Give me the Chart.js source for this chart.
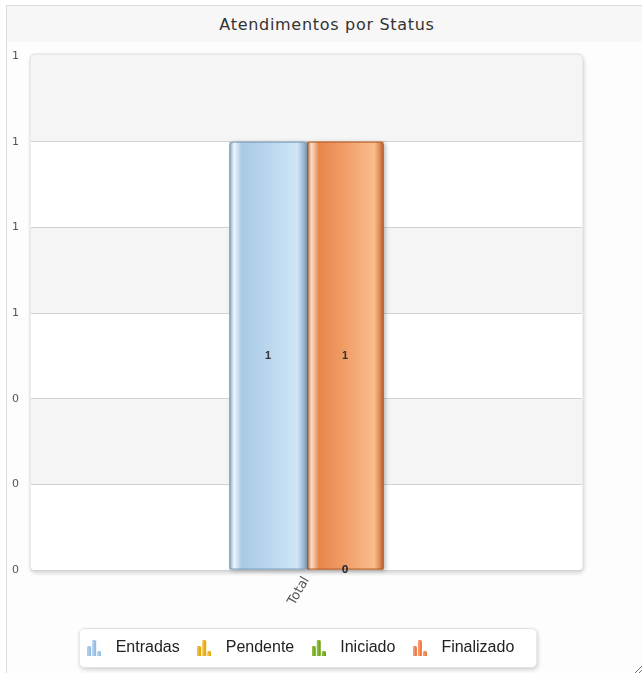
<!DOCTYPE html>
<html>
<head>
<meta charset="utf-8">
<script src="https://cdn.jsdelivr.net/npm/chart.js@4/dist/chart.umd.min.js"></script>
<style>
  html, body { margin: 0; padding: 0; background: #fff; width: 642px; height: 673px; overflow: hidden; }
  #wrap { position: absolute; left: 6px; top: 5px; width: 640px; height: 672px; border: 1px solid #dcdcdc; background: #fdfdfd; }
  #title { height: 36px; background: #f7f7f7; text-align: center; font: 16px 'DejaVu Sans', sans-serif; letter-spacing: 0.7px; line-height: 38px; color: #333; }
  #box { position: absolute; left: 0; top: 36px; width: 635px; height: 631px; }
  #grip { position: absolute; left: 628px; top: 660px; width: 7px; height: 7px;
    background: linear-gradient(135deg, transparent 45%, #777 45%, #777 55%, transparent 55%, transparent 75%, #777 75%, #777 85%, transparent 85%); }
</style>
</head>
<body>
<div id="wrap">
  <div id="title">Atendimentos por Status</div>
  <div id="box"><canvas id="cv"></canvas></div>
  <div id="grip"></div>
</div>
<script>
'use strict';

/* ---- dados ---- */
const categories = ['Total'];
const seriesNames = ['Entradas', 'Pendente', 'Iniciado', 'Finalizado'];
const entradas = [1];
const pendente = [0];
const iniciado = [0];
const finalizado = [1];
const yMin = 0, yMax = 1.2, yStep = 0.2;

/* ---- estilos ---- */
const baseColors = ['#b3d2ec', '#e9b41e', '#7db022', '#ec8a4c'];
const iconColors = ['#94bfe4', '#e6aa0c', '#6ea814', '#f07c44'];
const glass = [
    ['#86a7c4', '#eef6fc', '#a9c9e4', '#b9d6ee', '#cfe5f7', '#a3c0d9', '#7f9fba'],
    ['#b8870c', '#fff0c0', '#e4ab16', '#eec040', '#f6d46a', '#d09c18', '#a67a08'],
    ['#5d8d12', '#e6f5c8', '#78ad1e', '#8cc030', '#a6d24e', '#6e9d1a', '#55820e'],
    ['#c0652c', '#fde4d0', '#e7864a', '#f19e68', '#fbbc8e', '#de8a56', '#b5622e']
];
const glassStops = [0, 0.06, 0.16, 0.5, 0.88, 0.95, 1];

function makeIcon(color) {
    const c = document.createElement('canvas');
    c.width = 14; c.height = 16;
    const x = c.getContext('2d');
    const bars = [[0, 6, 10], [5, 0, 16], [10, 11, 5]];
    x.fillStyle = color;
    bars.forEach(([bx, by, bh]) => {
        x.beginPath();
        x.roundRect(bx, by, 4, bh, [1.5, 1.5, 0, 0]);
        x.fill();
    });
    // brilho
    x.globalAlpha = 0.45;
    x.fillStyle = '#fff';
    bars.forEach(([bx, by, bh]) => x.fillRect(bx + 0.5, by + 1, 1, bh - 1));
    return c;
}
const icons = iconColors.map(makeIcon);

/* fundo do plot: moldura arredondada + faixas alternadas */
const plotBackground = {
    id: 'plotBackground',
    beforeDraw(chart) {
        const { ctx, chartArea: a, scales: { y } } = chart;
        ctx.save();
        // moldura com sombra
        ctx.shadowColor = 'rgba(0,0,0,0.18)';
        ctx.shadowBlur = 4; ctx.shadowOffsetX = 1; ctx.shadowOffsetY = 2;
        ctx.beginPath();
        ctx.roundRect(a.left - 1, a.top - 2, a.right - a.left + 2, a.bottom - a.top + 3, 5);
        ctx.fillStyle = '#fff';
        ctx.fill();
        ctx.shadowColor = 'transparent';
        ctx.clip();
        // faixas
        const ticks = y.ticks.map(t => t.value);
        for (let i = 0; i < ticks.length - 1; i++) {
            const idxFromTop = ticks.length - 2 - i;
            if (idxFromTop % 2 === 0) {
                const y0 = idxFromTop === 0 ? a.top - 3 : y.getPixelForValue(ticks[i + 1]);
                const y1 = y.getPixelForValue(ticks[i]);
                ctx.fillStyle = '#f5f5f5';
                ctx.fillRect(a.left - 2, y0, a.right - a.left + 4, y1 - y0);
            }
        }
        ctx.restore();
        ctx.save();
        ctx.beginPath();
        ctx.roundRect(a.left - 1, a.top - 2, a.right - a.left + 2, a.bottom - a.top + 3, 5);
        ctx.strokeStyle = '#dedede';
        ctx.lineWidth = 1;
        ctx.stroke();
        ctx.restore();

        // caixa da legenda
        const lg = chart.legend;
        if (lg && lg.legendHitBoxes && lg.legendHitBoxes.length) {
            const hb = lg.legendHitBoxes;
            const l = Math.min(...hb.map(h => h.left)) - 2;
            const r = Math.max(...hb.map(h => h.left + h.width)) + 22;
            const t = hb[0].top - 12;
            ctx.save();
            ctx.shadowColor = 'rgba(0,0,0,0.2)';
            ctx.shadowBlur = 4; ctx.shadowOffsetX = 1; ctx.shadowOffsetY = 2;
            ctx.beginPath();
            ctx.roundRect(l + 0.5, t + 0.5, r - l, 39, 5);
            ctx.fillStyle = '#fff';
            ctx.fill();
            ctx.shadowColor = 'transparent';
            ctx.strokeStyle = '#e2e2e2';
            ctx.stroke();
            ctx.restore();
        }
    }
};

/* legenda centrada na área do gráfico (um pouco à esquerda, como no original) */
const centerLegend = {
    id: 'centerLegend',
    afterLayout(chart) {
        const lg = chart.legend, a = chart.chartArea;
        const dx = (a.left + a.right) / 2 - (lg.left + lg.right) / 2 - 9;
        lg.left += dx; lg.right += dx;
    }
};

/* efeito "vidro" nas barras */
const glassBars = {
    id: 'glassBars',
    afterDatasetDraw(chart, args) {
        const ctx = chart.ctx;
        const stops = glass[args.index];
        args.meta.data.forEach(el => {
            const { x, y, base, width } = el.getProps(['x', 'y', 'base', 'width'], true);
            const h = base - y;
            if (Math.abs(h) < 1) return;
            const l = x - width / 2;
            const g = ctx.createLinearGradient(l, 0, l + width, 0);
            stops.forEach((c, i) => g.addColorStop(glassStops[i], c));
            ctx.save();
            ctx.shadowColor = 'rgba(0,0,0,0.28)';
            ctx.shadowBlur = 4; ctx.shadowOffsetX = 2; ctx.shadowOffsetY = 1;
            ctx.beginPath();
            ctx.roundRect(l, y, width, h, [3, 3, 1, 1]);
            ctx.fillStyle = g;
            ctx.fill();
            ctx.shadowColor = 'transparent';
            ctx.strokeStyle = stops[6];
            ctx.lineWidth = 1;
            ctx.beginPath();
            ctx.roundRect(l + 0.5, y + 0.5, width - 1, h - 1, [3, 3, 1, 1]);
            ctx.stroke();
            ctx.restore();
        });
    }
};

/* rótulos de valor */
const valueLabels = {
    id: 'valueLabels',
    afterDatasetsDraw(chart) {
        const ctx = chart.ctx;
        ctx.save();
        ctx.font = 'bold 11px "Liberation Sans", Arial, sans-serif';
        ctx.fillStyle = '#333';
        ctx.textAlign = 'center';
        ctx.textBaseline = 'middle';
        chart.data.datasets.forEach((ds, di) => {
            const meta = chart.getDatasetMeta(di);
            meta.data.forEach((el, i) => {
                const { x, y, base } = el.getProps(['x', 'y', 'base'], true);
                ctx.fillText(String(ds.data[i]), x, (y + base) / 2);
            });
        });
        ctx.restore();
    }
};

const seriesData = [entradas, pendente, iniciado, finalizado];
const stackIds = ['a', 'b', 'b', 'b'];

new Chart(document.getElementById('cv'), {
    type: 'bar',
    data: {
        labels: categories,
        datasets: seriesNames.map((name, i) => ({
            label: name,
            data: seriesData[i],
            stack: stackIds[i],
            backgroundColor: baseColors[i],
            borderWidth: 0,
            categoryPercentage: 0.2795,
            barPercentage: 1
        }))
    },
    options: {
        responsive: true,
        maintainAspectRatio: false,
        animation: false,
        layout: { padding: { left: 5, right: 60, top: 14, bottom: 7 } },
        plugins: {
            title: { display: false },
            tooltip: { enabled: false },
            legend: {
                position: 'bottom',
                labels: {
                    usePointStyle: true,
                    pointStyleWidth: 27,
                    padding: 11,
                    color: '#222',
                    font: { size: 16, family: "'Liberation Sans', Arial, sans-serif" },
                    generateLabels(chart) {
                        const items = Chart.defaults.plugins.legend.labels.generateLabels(chart);
                        items.forEach((it, i) => { it.pointStyle = icons[i]; it.fontColor = '#222'; });
                        return items;
                    }
                }
            }
        },
        scales: {
            x: {
                grid: { display: false, drawTicks: false },
                border: { display: false },
                ticks: {
                    minRotation: 60, maxRotation: 60, padding: 4,
                    color: '#555',
                    font: { size: 13, family: "'DejaVu Sans', sans-serif" }
                },
                afterFit(scale) { scale.height = 59; }
            },
            y: {
                min: yMin, max: yMax,
                grid: {
                    drawTicks: false,
                    color: ctx => (ctx.tick && ctx.tick.value >= yMax - 1e-9) ? 'rgba(0,0,0,0)' : '#d2d2d2'
                },
                border: { display: false },
                ticks: {
                    stepSize: yStep,
                    crossAlign: 'far',
                    color: '#555',
                    font: { size: 11, family: "'DejaVu Sans', sans-serif" },
                    callback: v => String(Math.round(v))
                },
                afterFit(scale) { scale.width = 19; }
            }
        }
    },
    plugins: [plotBackground, centerLegend, glassBars, valueLabels]
});
</script>
</body>
</html>
